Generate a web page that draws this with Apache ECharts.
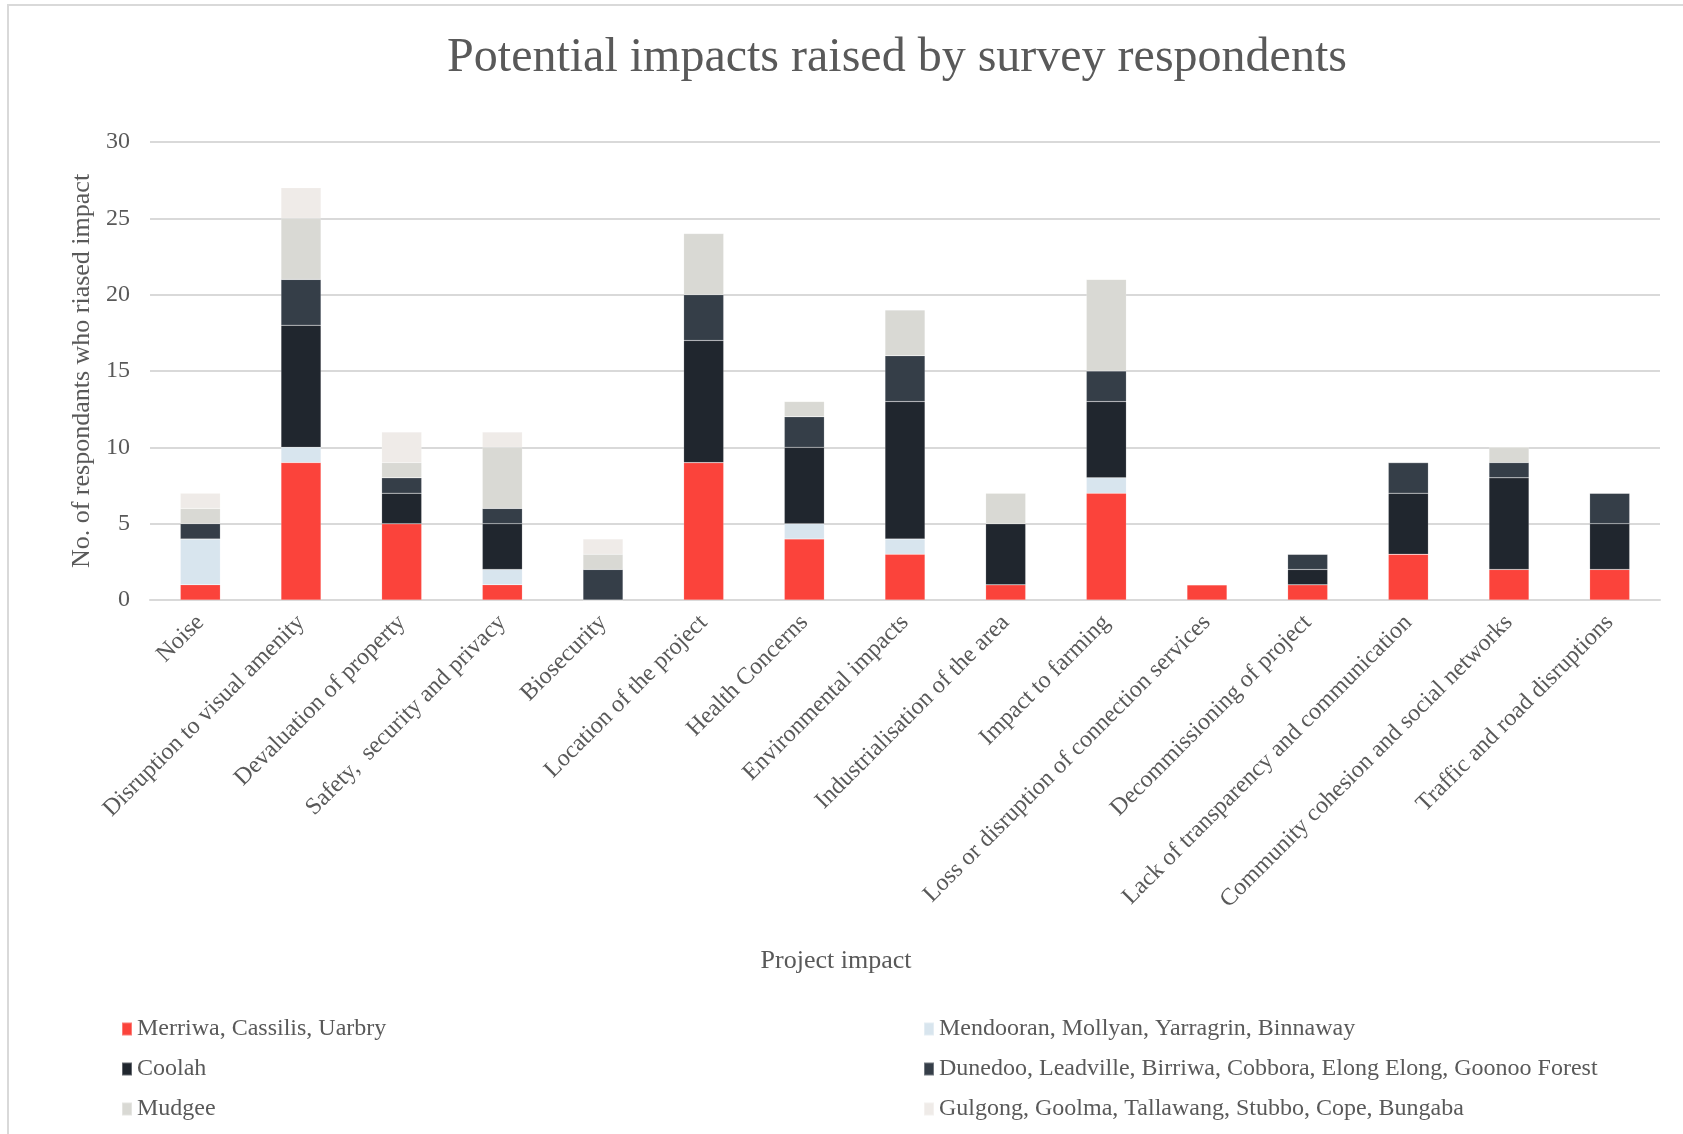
<!DOCTYPE html>
<html>
<head>
<meta charset="utf-8">
<title>Potential impacts raised by survey respondents</title>
<script src="https://cdn.jsdelivr.net/npm/echarts@6/dist/echarts.min.js"></script>
<style>
  html, body { margin: 0; padding: 0; background: #ffffff; }
  #chart { width: 1683px; height: 1134px; }
</style>
</head>
<body>
<div id="chart"></div>
<script>
// Impact categories along the x axis
const categories = [
  'Noise',
  'Disruption to visual amenity',
  'Devaluation of property',
  'Safety,  security and privacy',
  'Biosecurity',
  'Location of the project',
  'Health Concerns',
  'Environmental impacts',
  'Industrialisation of the area',
  'Impact to farming',
  'Loss or disruption of connection services',
  'Decommissioning of project',
  'Lack of transparency and communication',
  'Community cohesion and social networks',
  'Traffic and road disruptions'
];

// Respondent counts per locality group (stacked)
const merriwa   = [1, 9, 5, 1, 0, 9, 4, 3, 1, 7, 1, 1, 3, 2, 2];
const mendooran = [3, 1, 0, 1, 0, 0, 1, 1, 0, 1, 0, 0, 0, 0, 0];
const coolah    = [0, 8, 2, 3, 0, 8, 5, 9, 4, 5, 0, 1, 4, 6, 3];
const dunedoo   = [1, 3, 1, 1, 2, 3, 2, 3, 0, 2, 0, 1, 2, 1, 2];
const mudgee    = [1, 4, 1, 4, 1, 4, 1, 3, 2, 6, 0, 0, 0, 1, 0];
const gulgong   = [1, 2, 2, 1, 1, 0, 0, 0, 0, 0, 0, 0, 0, 0, 0];

const seriesNames = [
  'Merriwa, Cassilis, Uarbry',
  'Mendooran, Mollyan, Yarragrin, Binnaway',
  'Coolah',
  'Dunedoo, Leadville, Birriwa, Cobbora, Elong Elong, Goonoo Forest',
  'Mudgee',
  'Gulgong, Goolma, Tallawang, Stubbo, Cope, Bungaba'
];
const seriesData = [merriwa, mendooran, coolah, dunedoo, mudgee, gulgong];
const seriesColors = ['#fb433b', '#d8e5ee', '#20262e', '#353e48', '#d9d9d4', '#efebe8'];

const FONT = '"Liberation Serif", "Times New Roman", serif';
const TEXT = '#595959';
const GRID = '#d9d9d9';

const chart = echarts.init(document.getElementById('chart'), null, { renderer: 'canvas' });

const legendBase = {
  orient: 'vertical',
  top: 1012,
  itemWidth: 10,
  itemHeight: 13,
  itemGap: 16,
  icon: 'rect',
  textStyle: { fontFamily: FONT, fontSize: 24, color: TEXT, lineHeight: 24 }
};

const option = {
  backgroundColor: '#ffffff',
  animation: false,
  textStyle: { fontFamily: FONT, color: TEXT },
  title: {
    text: 'Potential impacts raised by survey respondents',
    left: 892,
    top: 29,
    textAlign: 'center',
    textStyle: { fontFamily: FONT, fontSize: 48, fontWeight: 'normal', color: TEXT }
  },
  graphic: [
    // outer frame: top and left edges
    { type: 'line', shape: { x1: 7, y1: 5, x2: 1683, y2: 5 }, style: { stroke: GRID, lineWidth: 2 }, silent: true },
    { type: 'line', shape: { x1: 8, y1: 5, x2: 8, y2: 1134 }, style: { stroke: GRID, lineWidth: 2 }, silent: true }
  ],
  legend: [
    Object.assign({ data: [seriesNames[0], seriesNames[2], seriesNames[4]], left: 116 }, legendBase),
    Object.assign({ data: [seriesNames[1], seriesNames[3], seriesNames[5]], left: 918 }, legendBase)
  ],
  grid: { left: 150, right: 23, top: 142, bottom: 534, containLabel: false },
  xAxis: {
    type: 'category',
    data: categories,
    name: 'Project impact',
    nameLocation: 'middle',
    nameGap: 348,
    nameTextStyle: { fontFamily: FONT, fontSize: 26, color: TEXT, padding: [0, 138, 0, 0] },
    axisLine: { lineStyle: { color: GRID, width: 2 } },
    axisTick: { show: false },
    axisLabel: {
      rotate: 45,
      interval: 0,
      margin: 19,
      fontFamily: FONT,
      fontSize: 24,
      color: TEXT
    }
  },
  yAxis: {
    type: 'value',
    min: 0,
    max: 30,
    interval: 5,
    name: 'No. of respondants who riased impact',
    nameLocation: 'middle',
    nameGap: 50,
    nameRotate: 90,
    nameTextStyle: { fontFamily: FONT, fontSize: 26, color: TEXT },
    axisLine: { show: false },
    axisTick: { show: false },
    axisLabel: { margin: 20, fontFamily: FONT, fontSize: 24, color: TEXT },
    splitLine: { lineStyle: { color: GRID, width: 2 } }
  },
  series: seriesNames.map((name, i) => ({
    name: name,
    type: 'bar',
    stack: 'total',
    data: seriesData[i],
    barWidth: 40,
    itemStyle: { color: seriesColors[i], borderColor: 'rgba(255,255,255,0.3)', borderWidth: 0.5 }
  }))
};

chart.setOption(option);
</script>
</body>
</html>
